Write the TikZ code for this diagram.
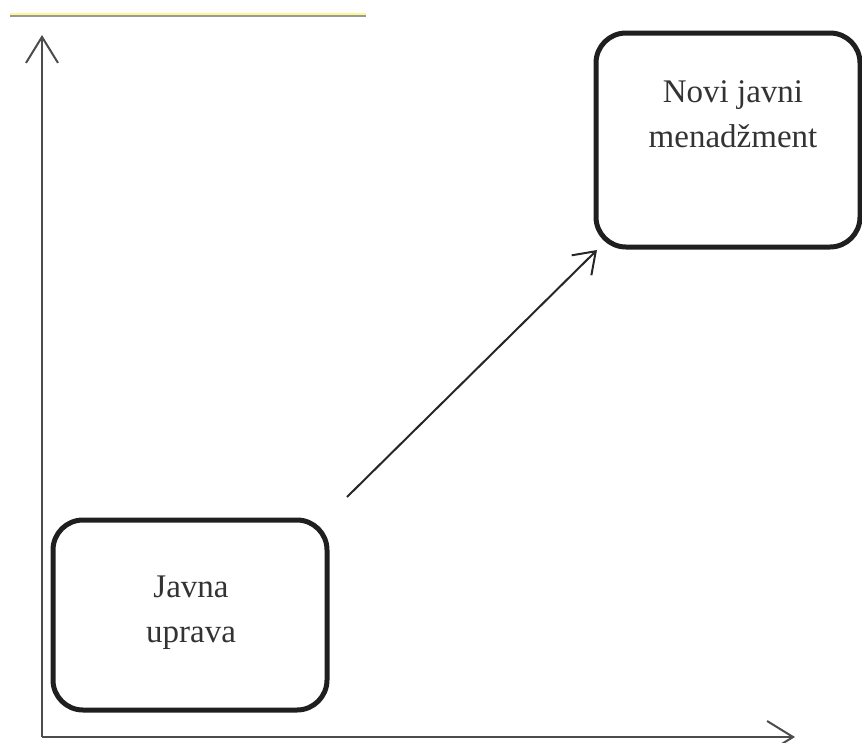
\documentclass[tikz,border=0pt]{standalone}
\usepackage{fontspec}
\setmainfont{Liberation Serif}
\usetikzlibrary{arrows.meta}
\begin{document}
\begin{tikzpicture}[x=1pt,y=-1pt,
  box/.style={draw=black!88, line width=5pt, rounded corners=30pt, inner sep=0pt},
  lbl/.style={font=\fontsize{33}{45}\selectfont, text=black!80, align=center, inner sep=0pt},
  axis/.style={draw=black!70, line width=2.5pt, -{Straight Barb[length=26pt,width=32pt,line width=2pt]}},
  conn/.style={draw=black!85, line width=2pt, -{Straight Barb[length=20pt,width=28pt,line width=2pt]}}]
\useasboundingbox (0,0) rectangle (862,742);
% top rule
\draw[line width=2pt, draw=yellow!45] (10,13.5) -- (366,13.5);
\draw[line width=1.5pt, draw=black!40] (10,16) -- (366,16);
% axes
\coordinate (o) at (42,737);
\coordinate (ytip) at (42,35);
\coordinate (xtip) at (795,737);
\draw[axis] (o) -- (ytip);
\draw[axis] (o) -- (xtip);
% boxes
\node[box, minimum width=274pt, minimum height=190pt] (ja) at (190,615) {};
\node[lbl] (jat) at (191,613) {Javna\\uprava};
\node[box, minimum width=264pt, minimum height=214pt] (nm) at (728,140) {};
\node[lbl] (nmt) at (733,114.5) {Novi javni\\menadžment};
% connector
\coordinate (cs) at (347,497);
\coordinate (ce) at (597,250);
\draw[conn] (cs) -- (ce);
\end{tikzpicture}
\end{document}
